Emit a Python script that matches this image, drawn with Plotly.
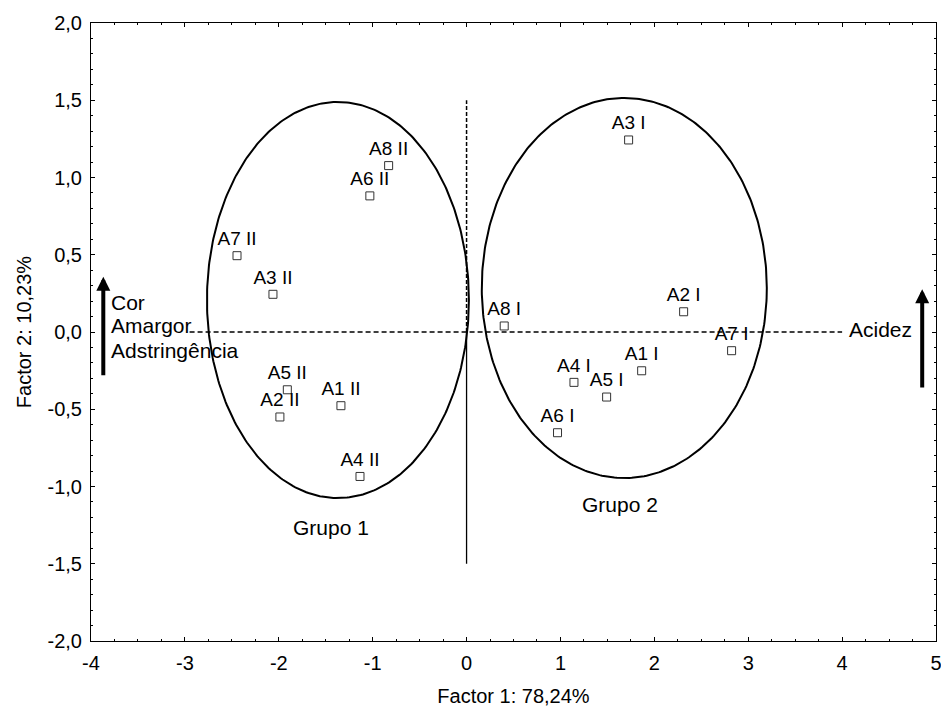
import plotly.graph_objects as go
import numpy as np

# Sample scores on the first two factors
labels_g1 = ["A8 II", "A6 II", "A7 II", "A3 II", "A5 II", "A2 II", "A1 II", "A4 II"]
f1_g1 = [-0.83, -1.03, -2.445, -2.062, -1.909, -1.988, -1.338, -1.135]
f2_g1 = [1.077, 0.881, 0.494, 0.244, -0.374, -0.550, -0.477, -0.935]

labels_g2 = ["A3 I", "A2 I", "A8 I", "A7 I", "A1 I", "A4 I", "A5 I", "A6 I"]
f1_g2 = [1.726, 2.312, 0.401, 2.823, 1.865, 1.144, 1.492, 0.969]
f2_g2 = [1.243, 0.131, 0.039, -0.121, -0.251, -0.326, -0.421, -0.652]

# Group ellipses: centre (x, y) and semi-axes (rx, ry)
ellipse_g1 = (-1.37, 0.207, 1.395, 1.282)
ellipse_g2 = (1.68, 0.285, 1.518, 1.23)

x_ticks = [-4, -3, -2, -1, 0, 1, 2, 3, 4, 5]
x_ticktext = ["-4", "-3", "-2", "-1", "0", "1", "2", "3", "4", "5"]
y_ticks = [-2.0, -1.5, -1.0, -0.5, 0.0, 0.5, 1.0, 1.5, 2.0]
y_ticktext = ["-2,0", "-1,5", "-1,0", "-0,5", "0,0", "0,5", "1,0", "1,5", "2,0"]

FONT = "Liberation Sans, Arial, sans-serif"

fig = go.Figure()

# reference lines through the origin
fig.add_trace(go.Scatter(x=[-2.95, 4.0], y=[0, 0], mode="lines",
                         line=dict(color="black", width=1.3, dash="5px,3px"),
                         hoverinfo="skip", showlegend=False))
fig.add_trace(go.Scatter(x=[0, 0], y=[0, 1.5], mode="lines",
                         line=dict(color="black", width=1.5, dash="4px,2px"),
                         hoverinfo="skip", showlegend=False))
fig.add_trace(go.Scatter(x=[0, 0], y=[-1.5, 0], mode="lines",
                         line=dict(color="black", width=1.3),
                         hoverinfo="skip", showlegend=False))

# ellipses
t = np.linspace(0, 2 * np.pi, 361)
for cx, cy, rx, ry in (ellipse_g1, ellipse_g2):
    fig.add_trace(go.Scatter(x=cx + rx * np.cos(t), y=cy + ry * np.sin(t),
                             mode="lines", line=dict(color="black", width=2),
                             hoverinfo="skip", showlegend=False))

# sample points
for xs, ys, names in ((f1_g1, f2_g1, labels_g1), (f1_g2, f2_g2, labels_g2)):
    fig.add_trace(go.Scatter(
        x=xs, y=ys, mode="markers+text", text=names,
        textposition="top center",
        textfont=dict(family=FONT, size=19, color="black"),
        marker=dict(symbol="square", size=8, color="white",
                    line=dict(color="#333333", width=1)),
        showlegend=False))

ann_font = dict(family=FONT, size=21, color="black")
annotations = [
    dict(x=-3.805, y=0.194, text="Cor", xanchor="left", yanchor="middle"),
    dict(x=-3.805, y=0.042, text="Amargor", xanchor="left", yanchor="middle"),
    dict(x=-3.805, y=-0.117, text="Adstringência", xanchor="left", yanchor="middle"),
    dict(x=4.767, y=0.013, text="Acidez", xanchor="right", yanchor="middle"),
    dict(x=-1.443, y=-1.263, text="Grupo 1", xanchor="center", yanchor="middle"),
    dict(x=1.632, y=-1.118, text="Grupo 2", xanchor="center", yanchor="middle"),
]
for a in annotations:
    a.update(xref="x", yref="y", showarrow=False, font=ann_font)

# vertical arrows for the attribute directions
for xa, y_tail, y_tip in ((-3.869, -0.29, 0.358), (4.853, -0.369, 0.277)):
    annotations.append(dict(x=xa, y=y_tip, ax=xa, ay=y_tail,
                            xref="x", yref="y", axref="x", ayref="y",
                            text="", showarrow=True, arrowhead=2,
                            arrowsize=0.7, arrowwidth=4, arrowcolor="black"))

axis_common = dict(showgrid=False, zeroline=False, showline=True,
                   linecolor="black", linewidth=1, mirror="ticks",
                   ticks="inside", ticklen=4, tickcolor="black",
                   automargin=False, ticklabeloverflow="allow",
                   tickfont=dict(family=FONT, size=20, color="black"),
                   minor=dict(ticks="inside", ticklen=2, tickcolor="black"))

fig.update_layout(
    width=941, height=707,
    margin=dict(l=91, r=5, t=23, b=66),
    paper_bgcolor="white", plot_bgcolor="white",
    annotations=annotations,
    xaxis=dict(axis_common, range=[-4, 5], tickvals=x_ticks, ticktext=x_ticktext,
               title=dict(text="Factor 1: 78,24%", standoff=16,
                          font=dict(family=FONT, size=20, color="black"))),
    yaxis=dict(axis_common, range=[-2, 2], tickvals=y_ticks, ticktext=y_ticktext,
               title=dict(text="Factor 2: 10,23%", standoff=10,
                          font=dict(family=FONT, size=20, color="black"))),
)
fig.update_xaxes(minor_dtick=0.25, ticklabelstandoff=4)
fig.update_yaxes(minor_dtick=0.1, ticklabelstandoff=4)

fig.write_html("out.html")
